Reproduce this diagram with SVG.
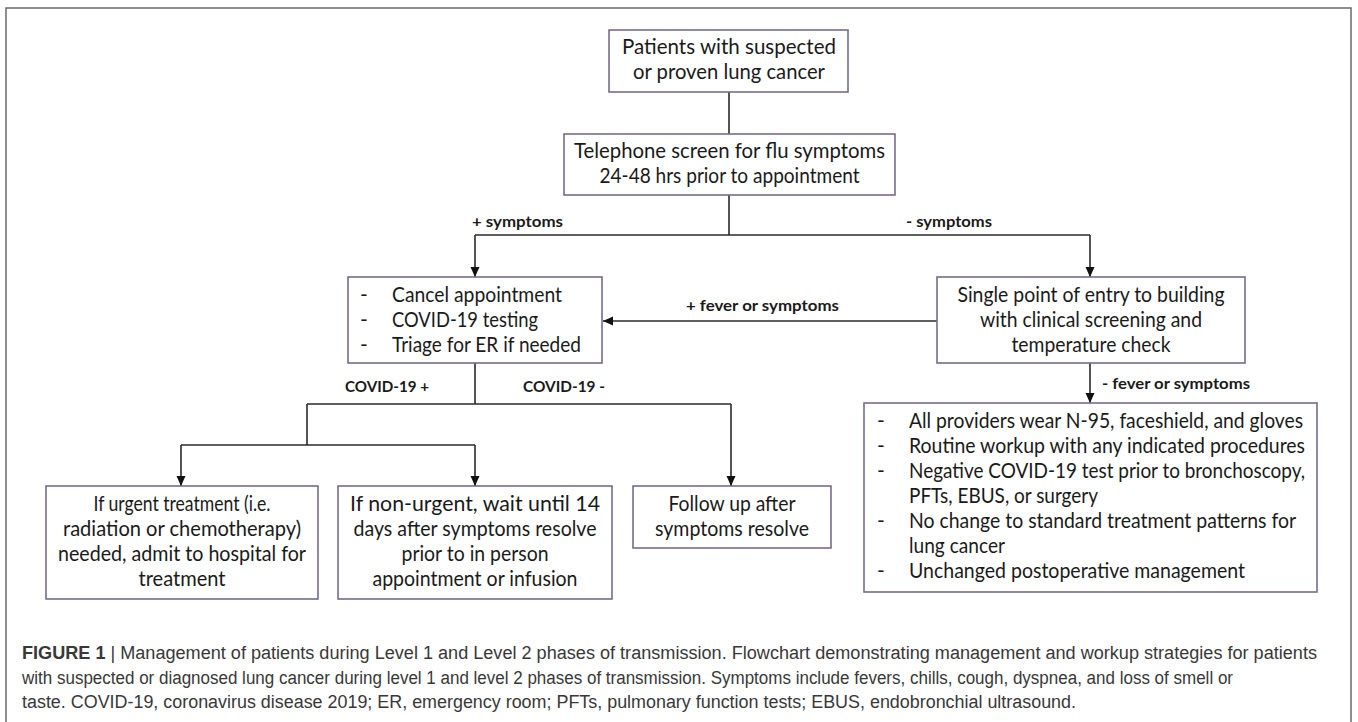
<svg xmlns="http://www.w3.org/2000/svg" width="1358" height="722" viewBox="0 0 1358 722">
<defs>
<marker id="ah" viewBox="0 0 10 10" refX="10" refY="5" markerWidth="10" markerHeight="10" markerUnits="userSpaceOnUse" orient="auto">
<path d="M0,0.5 L10,5 L0,9.5 z" fill="#111"/>
</marker>
<style>
.frame{fill:#fff;stroke:#6a6a6a;stroke-width:1.5}
.box{fill:#fff;stroke:#7a6a8c;stroke-width:1.6}
.t{font-family:Lato,"Open Sans","Liberation Sans",sans-serif;font-size:21px;fill:#1a1a1a}
.c{text-anchor:middle}
.lbl{font-family:Lato,"Liberation Sans",sans-serif;font-size:16px;font-weight:bold;fill:#1a1a1a}
.ln{fill:none;stroke:#2a2a2a;stroke-width:1.6}
.arr{fill:none;stroke:#2a2a2a;stroke-width:1.6;marker-end:url(#ah)}
.cap{font-family:"Liberation Sans",Arial,sans-serif;font-size:18px;fill:#383838}
</style>
</defs>
<rect class="frame" x="6" y="8" width="1345" height="730"/>

<g id="connectors">
<line class="ln" x1="729" y1="92" x2="729" y2="134"/>
<polyline class="ln" points="729,195 729,235"/>
<polyline class="ln" points="475,235 1090,235"/>
<line class="arr" x1="475" y1="235" x2="475" y2="277"/>
<line class="arr" x1="1090" y1="235" x2="1090" y2="277"/>
<line class="arr" x1="937" y1="321" x2="603" y2="321"/>
<line class="arr" x1="1090" y1="363" x2="1090" y2="403"/>
<polyline class="ln" points="475,363 475,404"/>
<polyline class="ln" points="307,404 731,404"/>
<line class="arr" x1="731" y1="404" x2="731" y2="486"/>
<polyline class="ln" points="307,404 307,445"/>
<polyline class="ln" points="181,445 475,445"/>
<line class="arr" x1="181" y1="445" x2="181" y2="486"/>
<line class="arr" x1="475" y1="445" x2="475" y2="486"/>
<text class="lbl" x="472" y="227" textLength="91" lengthAdjust="spacingAndGlyphs">+ symptoms</text>
<text class="lbl" x="906" y="227" textLength="86" lengthAdjust="spacingAndGlyphs">- symptoms</text>
<text class="lbl" x="686" y="311" textLength="153" lengthAdjust="spacingAndGlyphs">+ fever or symptoms</text>
<text class="lbl" x="1102" y="389" textLength="148" lengthAdjust="spacingAndGlyphs">- fever or symptoms</text>
<text class="lbl" x="345" y="392" textLength="84" lengthAdjust="spacingAndGlyphs">COVID-19 +</text>
<text class="lbl" x="523" y="392" textLength="82" lengthAdjust="spacingAndGlyphs">COVID-19 -</text>
</g>

<g id="patients">
<rect class="box" x="609" y="30" width="239" height="62"/>
<text class="t c" x="729" y="54" textLength="214" lengthAdjust="spacingAndGlyphs">Patients with suspected</text>
<text class="t c" x="729" y="79" textLength="192" lengthAdjust="spacingAndGlyphs">or proven lung cancer</text>
</g>

<g id="telephone">
<rect class="box" x="564" y="134" width="331" height="61"/>
<text class="t c" x="729.5" y="158" textLength="311" lengthAdjust="spacingAndGlyphs">Telephone screen for flu symptoms</text>
<text class="t c" x="729.5" y="183" textLength="260" lengthAdjust="spacingAndGlyphs">24-48 hrs prior to appointment</text>
</g>

<g id="cancel">
<rect class="box" x="348" y="277" width="254" height="86"/>
<text class="t" x="360" y="302">-</text>
<text class="t" x="392" y="302" textLength="170" lengthAdjust="spacingAndGlyphs">Cancel appointment</text>
<text class="t" x="360" y="327">-</text>
<text class="t" x="392" y="327" textLength="146" lengthAdjust="spacingAndGlyphs">COVID-19 testing</text>
<text class="t" x="360" y="352">-</text>
<text class="t" x="392" y="352" textLength="189" lengthAdjust="spacingAndGlyphs">Triage for ER if needed</text>
</g>

<g id="single-entry">
<rect class="box" x="937" y="277" width="308" height="86"/>
<text class="t c" x="1091" y="302" textLength="267" lengthAdjust="spacingAndGlyphs">Single point of entry to building</text>
<text class="t c" x="1091" y="327" textLength="222" lengthAdjust="spacingAndGlyphs">with clinical screening and</text>
<text class="t c" x="1091" y="352" textLength="159" lengthAdjust="spacingAndGlyphs">temperature check</text>
</g>

<g id="workup">
<rect class="box" x="864" y="403" width="453" height="189"/>
<text class="t" x="877" y="428">-</text>
<text class="t" x="909" y="428" textLength="394" lengthAdjust="spacingAndGlyphs">All providers wear N-95, faceshield, and gloves</text>
<text class="t" x="877" y="453">-</text>
<text class="t" x="909" y="453" textLength="396" lengthAdjust="spacingAndGlyphs">Routine workup with any indicated procedures</text>
<text class="t" x="877" y="478">-</text>
<text class="t" x="909" y="478" textLength="396" lengthAdjust="spacingAndGlyphs">Negative COVID-19 test prior to bronchoscopy,</text>
<text class="t" x="909" y="503" textLength="189" lengthAdjust="spacingAndGlyphs">PFTs, EBUS, or surgery</text>
<text class="t" x="877" y="528">-</text>
<text class="t" x="909" y="528" textLength="387" lengthAdjust="spacingAndGlyphs">No change to standard treatment patterns for</text>
<text class="t" x="909" y="553" textLength="96" lengthAdjust="spacingAndGlyphs">lung cancer</text>
<text class="t" x="877" y="578">-</text>
<text class="t" x="909" y="578" textLength="336" lengthAdjust="spacingAndGlyphs">Unchanged postoperative management</text>
</g>

<g id="urgent">
<rect class="box" x="46" y="486" width="272" height="113"/>
<text class="t c" x="182" y="511" textLength="177" lengthAdjust="spacingAndGlyphs">If urgent treatment (i.e.</text>
<text class="t c" x="182" y="536" textLength="238" lengthAdjust="spacingAndGlyphs">radiation or chemotherapy)</text>
<text class="t c" x="182" y="561" textLength="248" lengthAdjust="spacingAndGlyphs">needed, admit to hospital for</text>
<text class="t c" x="182" y="586" textLength="87" lengthAdjust="spacingAndGlyphs">treatment</text>
</g>

<g id="non-urgent">
<rect class="box" x="338" y="486" width="274" height="113"/>
<text class="t c" x="475" y="511" textLength="250" lengthAdjust="spacingAndGlyphs">If non-urgent, wait until 14</text>
<text class="t c" x="475" y="536" textLength="243" lengthAdjust="spacingAndGlyphs">days after symptoms resolve</text>
<text class="t c" x="475" y="561" textLength="147" lengthAdjust="spacingAndGlyphs">prior to in person</text>
<text class="t c" x="475" y="586" textLength="205" lengthAdjust="spacingAndGlyphs">appointment or infusion</text>
</g>

<g id="follow-up">
<rect class="box" x="633" y="486" width="198" height="62"/>
<text class="t c" x="732" y="511" textLength="127" lengthAdjust="spacingAndGlyphs">Follow up after</text>
<text class="t c" x="732" y="536" textLength="154" lengthAdjust="spacingAndGlyphs">symptoms resolve</text>
</g>

<g id="caption">
<text class="cap" x="22" y="659" textLength="1295" lengthAdjust="spacingAndGlyphs"><tspan font-weight="bold">FIGURE 1</tspan> | Management of patients during Level 1 and Level 2 phases of transmission. Flowchart demonstrating management and workup strategies for patients</text>
<text class="cap" x="22" y="684" textLength="1211" lengthAdjust="spacingAndGlyphs">with suspected or diagnosed lung cancer during level 1 and level 2 phases of transmission. Symptoms include fevers, chills, cough, dyspnea, and loss of smell or</text>
<text class="cap" x="22" y="708" textLength="1054" lengthAdjust="spacingAndGlyphs">taste. COVID-19, coronavirus disease 2019; ER, emergency room; PFTs, pulmonary function tests; EBUS, endobronchial ultrasound.</text>
</g>
</svg>
